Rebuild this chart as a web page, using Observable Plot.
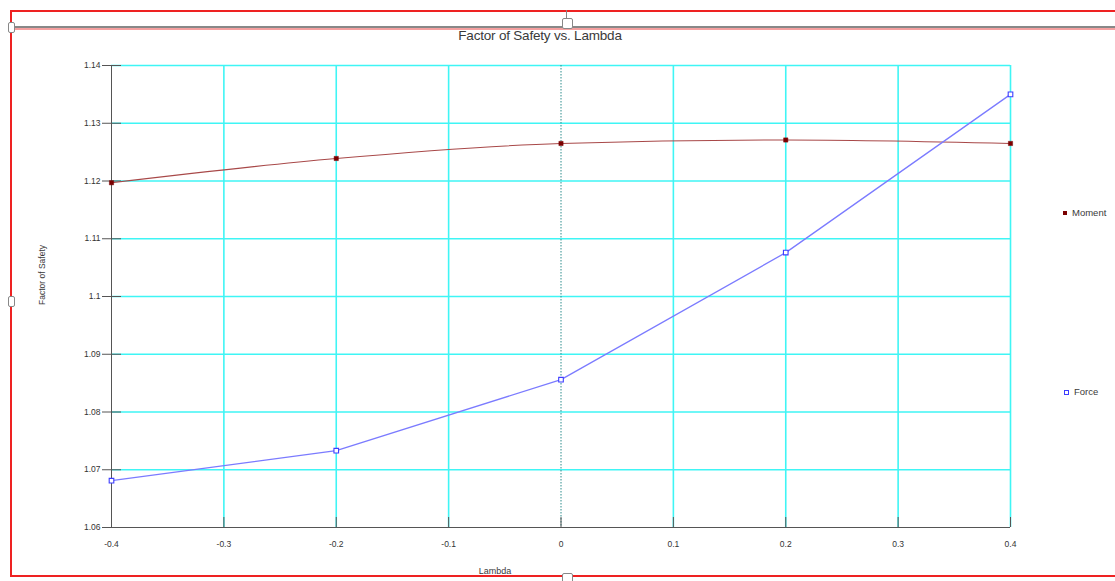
<!DOCTYPE html>
<html>
<head>
<meta charset="utf-8">
<script src="https://cdn.jsdelivr.net/npm/d3@7"></script>
<script src="https://cdn.jsdelivr.net/npm/@observablehq/plot@0.6"></script>
<style>
  html, body { margin: 0; padding: 0; background: #fff; }
  #wrap { position: relative; width: 1115px; height: 581px; overflow: hidden; font-family: "Liberation Sans", Arial, sans-serif; }
  #wrap svg { position: absolute; left: 0; top: 0; }
  .ov { position: absolute; pointer-events: none; }
  .txt { color: #3a3a3a; white-space: nowrap; }
</style>
</head>
<body>
<div id="wrap"></div>
<script>
// ---- data ----
const lambdas = [-0.4, -0.2, 0, 0.2, 0.4];
const momentFS = [1.1197, 1.1239, 1.1265, 1.1271, 1.1265];
const forceFS  = [1.0681, 1.0733, 1.0856, 1.1076, 1.1350];
const xTicks = [-0.4, -0.3, -0.2, -0.1, 0, 0.1, 0.2, 0.3, 0.4];
const yTicks = [1.06, 1.07, 1.08, 1.09, 1.1, 1.11, 1.12, 1.13, 1.14];
const titleText = "Factor of Safety vs. Lambda";
const xLabel = "Lambda";
const yLabel = "Factor of Safety";
const seriesNames = ["Moment", "Force"];

const moment = lambdas.map((x, i) => ({x, y: momentFS[i]}));
const force = lambdas.map((x, i) => ({x, y: forceFS[i]}));
const xDom = [xTicks[0], xTicks[xTicks.length - 1]];
const yDom = [yTicks[0], yTicks[yTicks.length - 1]];

const fmtX = d => String(+d.toFixed(1));
const fmtY = d => String(+d.toFixed(2));

const chart = Plot.plot({
  width: 1115,
  height: 581,
  marginTop: 65,
  marginRight: 105,
  marginBottom: 54,
  marginLeft: 111,
  style: {background: "transparent", fontFamily: "Liberation Sans, Arial, sans-serif", fontSize: "8.5px", color: "#333"},
  x: {domain: xDom},
  y: {domain: yDom},
  marks: [
    Plot.gridX(xTicks.filter(d => d !== 0 && d !== xDom[0]), {stroke: "#3ff5f5", strokeOpacity: 1, strokeWidth: 1.6}),
    Plot.gridY(yTicks.filter(d => d !== yDom[0]), {stroke: "#3ff5f5", strokeOpacity: 1, strokeWidth: 1.6}),
    Plot.ruleX([0], {stroke: "#2c8c8c", strokeWidth: 1, strokeDasharray: "1.5,1.5"}),
    // axis lines
    Plot.ruleX([xDom[0]], {stroke: "#555", strokeWidth: 1}),
    Plot.ruleY([yDom[0]], {stroke: "#555", strokeWidth: 1}),
    // x tick marks (inward)
    Plot.ruleX(xTicks, {x: d => d, y1: yDom[0], y2: yDom[0], insetTop: -10, stroke: "#555"}),
    // y tick marks (both sides)
    Plot.ruleY(yTicks, {y: d => d, x1: xDom[0], x2: xDom[0], insetLeft: -9, insetRight: -10, stroke: "#555"}),
    Plot.axisX({ticks: xTicks, tickFormat: fmtX, tickSize: 0, tickPadding: 13, fontSize: 8.5, label: null}),
    Plot.axisY({ticks: yTicks, tickFormat: fmtY, tickSize: 0, tickPadding: 11, fontSize: 8.5, label: null}),
    // series
    Plot.line(moment, {x: "x", y: "y", stroke: "#a84848", strokeWidth: 1.1, curve: "monotone-x"}),
    Plot.line(force, {x: "x", y: "y", stroke: "#7b7bff", strokeWidth: 1.3, curve: "linear"}),
    Plot.dot(moment, {x: "x", y: "y", symbol: "square", r: 2.4, fill: "#7a0000", stroke: "#7a0000", strokeWidth: 0.5}),
    Plot.dot(force, {x: "x", y: "y", symbol: "square", r: 2.6, fill: "#fff", stroke: "#3d3dff", strokeWidth: 1.1})
  ]
});

const wrap = document.getElementById("wrap");
wrap.appendChild(chart);

function ov(html, css) {
  const d = document.createElement("div");
  d.className = "ov";
  d.innerHTML = html;
  Object.assign(d.style, css);
  wrap.appendChild(d);
  return d;
}
// frame decorations
ov("", {left: "10px", top: "10px", width: "1120px", height: "567px", border: "2px solid #e22", boxSizing: "border-box"});
ov("", {left: "12px", top: "26px", width: "1110px", height: "2px", background: "#888"});
ov("", {left: "12px", top: "28px", width: "1110px", height: "2px", background: "#f4a0a0"});
ov("", {left: "566px", top: "10px", width: "1px", height: "10px", background: "#888"});
ov("", {left: "562px", top: "18px", width: "9px", height: "9px", background: "#fff", border: "1px solid #888", borderRadius: "2px"});
ov("", {left: "562px", top: "573px", width: "9px", height: "9px", background: "#fff", border: "1px solid #888", borderRadius: "2px"});
ov("", {left: "8px", top: "22px", width: "5px", height: "9px", background: "#fff", border: "1px solid #888", borderRadius: "2px"});
ov("", {left: "8px", top: "296px", width: "5px", height: "9px", background: "#fff", border: "1px solid #888", borderRadius: "2px"});

// texts
ov(titleText, {left: "540px", top: "28px", transform: "translateX(-50%)", fontSize: "13.5px", color: "#3a3a3a", letterSpacing: "-0.2px"}).classList.add("txt");
ov(xLabel, {left: "495px", top: "566px", transform: "translateX(-50%)", fontSize: "9px"}).classList.add("txt");
ov(yLabel, {left: "42px", top: "275px", transform: "translate(-50%,-50%) rotate(-90deg)", fontSize: "8.5px"}).classList.add("txt");

// legend
ov('<span style="display:inline-block;width:4px;height:4px;background:#7a0000;margin-right:5px;vertical-align:middle"></span>' + seriesNames[0],
   {left: "1063px", top: "207px", fontSize: "9.5px"}).classList.add("txt");
ov('<span style="display:inline-block;width:3px;height:3px;border:1px solid #3d3dff;margin-right:5px;vertical-align:middle"></span>' + seriesNames[1],
   {left: "1064px", top: "386px", fontSize: "9.5px"}).classList.add("txt");
</script>
</body>
</html>
